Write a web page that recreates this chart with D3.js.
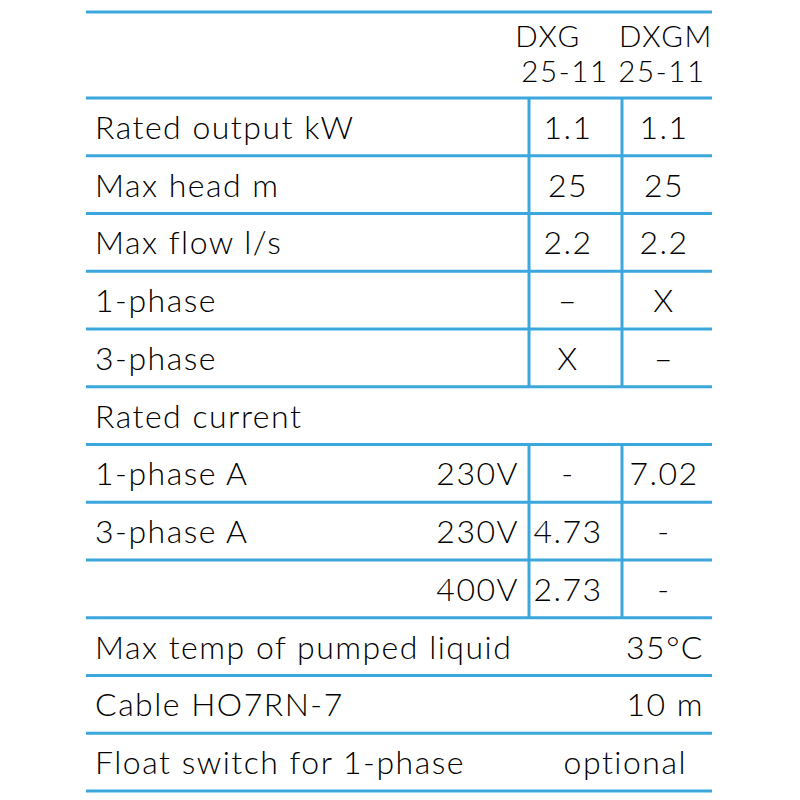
<!DOCTYPE html>
<html>
<head>
<meta charset="utf-8">
<script src="https://cdn.jsdelivr.net/npm/d3@7"></script>
<style>
  body { margin: 0; background: #fff; }
  text { font-family: Lato, "Open Sans", sans-serif; font-weight: 300; fill: #000; letter-spacing: 1.5px; }
  text.head { letter-spacing: 1.6px; }
</style>
</head>
<body>
<div id="table"></div>
<script>
// table contents
const headerTop = ["DXG", "DXGM"]
const headerBottom = ["25-11", "25-11"]
const rowLabels = ["Rated output kW", "Max head m", "Max flow l/s", "1-phase", "3-phase",
  "Rated current", "1-phase A", "3-phase A", "", "Max temp of pumped liquid",
  "Cable HO7RN-7", "Float switch for 1-phase"]
const voltages = ["", "", "", "", "", "", "230V", "230V", "400V", "", "", ""]
const dxgValues = ["1.1", "25", "2.2", "–", "X", "", "-", "4.73", "2.73", "", "", ""]
const dxgmValues = ["1.1", "25", "2.2", "X", "–", "", "7.02", "-", "-", "", "", ""]
const wideValues = ["", "", "", "", "", "", "", "", "", "35°C", "10 m", "optional"]
// rows that carry the two column dividers
const gridRows = [0, 1, 2, 3, 4, 6, 7, 8]

const width = 800, height = 800
const tLeft = 86, tRight = 712, tTop = 12, headBottom = 98, tBottom = 791
const col1 = 529, col2 = 622
const lineColor = '#3ba7dd'
const fs = 32, headFs = 29.5

const svg = d3.select('#table').append('svg')
  .attr('width', width)
  .attr('height', height)

const y = d3.scaleBand()
  .domain(d3.range(rowLabels.length))
  .range([headBottom, tBottom])

const colX = d3.scaleOrdinal()
  .domain(['dxg', 'dxgm'])
  .range([568, 664])

// horizontal rules
const rules = [tTop, headBottom].concat(d3.range(rowLabels.length).map(i => y(i) + y.bandwidth()))
svg.selectAll('.hline')
  .data(rules)
  .enter()
  .append('line')
  .attr('class', 'hline')
  .attr('x1', tLeft)
  .attr('x2', tRight)
  .attr('y1', d => d)
  .attr('y2', d => d)
  .attr('stroke', lineColor)
  .attr('stroke-width', 3)

// vertical dividers
const vlines = []
gridRows.forEach(r => { vlines.push({ r, x: col1 }); vlines.push({ r, x: col2 }) })
svg.selectAll('.vline')
  .data(vlines)
  .enter()
  .append('line')
  .attr('class', 'vline')
  .attr('x1', d => d.x)
  .attr('x2', d => d.x)
  .attr('y1', d => y(d.r))
  .attr('y2', d => y(d.r) + y.bandwidth())
  .attr('stroke', lineColor)
  .attr('stroke-width', 3)

// header
const headX = [[548, 565], [666, 662]]
headerTop.forEach((t, i) => {
  svg.append('text').attr('class', 'head').attr('x', headX[i][0]).attr('y', 47)
    .attr('text-anchor', 'middle').attr('font-size', headFs).text(t)
  svg.append('text').attr('class', 'head').attr('x', headX[i][1]).attr('y', 82)
    .attr('text-anchor', 'middle').attr('font-size', headFs).text(headerBottom[i])
})

const rows = svg.selectAll('.row')
  .data(rowLabels.map((label, i) => ({
    label, i, volt: voltages[i], dxg: dxgValues[i], dxgm: dxgmValues[i], wide: wideValues[i]
  })))
  .enter()
  .append('g')
  .attr('class', 'row')
  .attr('transform', d => `translate(0, ${y(d.i) + y.bandwidth() / 2 + 12})`)

rows.append('text')
  .attr('x', 95)
  .attr('font-size', fs)
  .text(d => d.label)

rows.append('text')
  .attr('x', 519)
  .attr('text-anchor', 'end')
  .attr('font-size', fs)
  .text(d => d.volt)

rows.append('text')
  .attr('x', colX('dxg'))
  .attr('text-anchor', 'middle')
  .attr('font-size', fs)
  .text(d => d.dxg)

rows.append('text')
  .attr('x', colX('dxgm'))
  .attr('text-anchor', 'middle')
  .attr('font-size', fs)
  .text(d => d.dxgm)

rows.append('text')
  .attr('x', d => d.wide === 'optional' ? 687 : 704)
  .attr('text-anchor', 'end')
  .attr('font-size', fs)
  .text(d => d.wide)
</script>
</body>
</html>
